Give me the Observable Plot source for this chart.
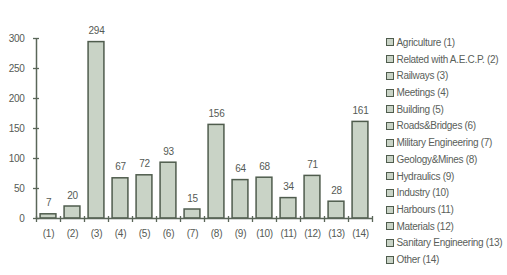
<!DOCTYPE html>
<html>
<head>
<meta charset="utf-8">
<script src="https://cdn.jsdelivr.net/npm/d3@7"></script>
<script src="https://cdn.jsdelivr.net/npm/@observablehq/plot@0.6"></script>
<style>
  html, body { margin: 0; padding: 0; background: #ffffff; }
  #wrap { position: relative; width: 507px; height: 275px; overflow: hidden; }
  #legend { position: absolute; left: 386px; top: 34px; font-family: "Liberation Sans", Arial, sans-serif; font-size: 10px; letter-spacing: -0.3px; color: #5a605a; }
  .item { height: 16.72px; display: flex; align-items: center; white-space: nowrap; }
  .sw { width: 6px; height: 6px; border: 1.3px solid #4f5c4d; background: #c9d3c6; margin-right: 2.5px; flex: none; }
</style>
</head>
<body>
<div id="wrap"><div id="chart"></div><div id="legend"></div></div>
<script>
const categories = ["(1)","(2)","(3)","(4)","(5)","(6)","(7)","(8)","(9)","(10)","(11)","(12)","(13)","(14)"];
const values = [7, 20, 294, 67, 72, 93, 15, 156, 64, 68, 34, 71, 28, 161];
const legendLabels = ["Agriculture (1)","Related with A.E.C.P. (2)","Railways (3)","Meetings (4)","Building (5)","Roads&Bridges (6)","Military Engineering (7)","Geology&Mines (8)","Hydraulics (9)","Industry (10)","Harbours (11)","Materials (12)","Sanitary Engineering (13)","Other (14)"];
const yTicks = [0, 50, 100, 150, 200, 250, 300];

const data = categories.map((c, k) => ({i: k + 1, label: c, value: values[k]}));
const centers = data.map(d => d.i);
const bounds = [0.5, ...centers.map(i => i + 0.5)];

const barFill = "#c9d3c6", barStroke = "#4f5c4d", axisColor = "#5a6658", textColor = "#555a55";

const chart = Plot.plot({
  width: 507, height: 275,
  marginLeft: 36, marginRight: 135, marginTop: 38, marginBottom: 57,
  x: {type: "linear", domain: [0.5, categories.length + 0.5], axis: null},
  y: {domain: [0, 300], axis: null},
  style: {fontFamily: "'Liberation Sans', Arial, sans-serif", fontSize: "10px", letterSpacing: "-0.3px", background: "#ffffff"},
  marks: [
    Plot.rectY(data, {x1: d => d.i - 0.33, x2: d => d.i + 0.33, y: "value", fill: barFill, stroke: barStroke, strokeWidth: 1.5}),
    Plot.ruleY([0], {stroke: axisColor, strokeWidth: 1.5}),
    Plot.ruleX([0.5], {y1: 0, y2: 300, stroke: axisColor, strokeWidth: 1.5}),
    Plot.axisY({ticks: yTicks, tickSize: 6, dx: 3, fill: "none", stroke: axisColor, strokeWidth: 1.3, label: null}),
    Plot.axisY({ticks: yTicks, tickSize: 0, tickPadding: 12, fill: textColor, fontSize: 10, label: null}),
    Plot.axisX({ticks: bounds, tickSize: 6, dy: -2, fill: "none", stroke: axisColor, strokeWidth: 1.3, label: null}),
    Plot.axisX({ticks: centers, tickSize: 0, tickPadding: 11, tickFormat: d => categories[d - 1], fill: textColor, fontSize: 10, label: null}),
    Plot.text(data, {x: "i", y: "value", text: d => String(d.value), dy: -8, lineAnchor: "bottom", fill: textColor, fontSize: 10})
  ]
});
document.getElementById("chart").appendChild(chart);

const legend = document.getElementById("legend");
legendLabels.forEach(l => {
  const it = document.createElement("div");
  it.className = "item";
  const sw = document.createElement("span");
  sw.className = "sw";
  const tx = document.createElement("span");
  tx.textContent = l;
  it.appendChild(sw); it.appendChild(tx);
  legend.appendChild(it);
});
</script>
</body>
</html>
